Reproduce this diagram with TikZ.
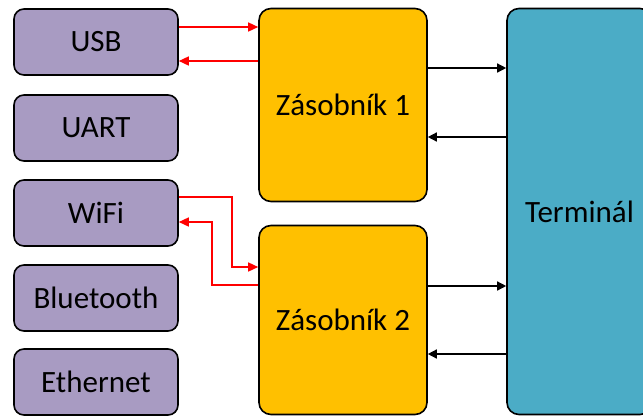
\documentclass[tikz,border=0pt]{standalone}
\usepackage{fontspec}
\setmainfont{Carlito}
\usetikzlibrary{arrows.meta,calc}
\definecolor{lpurple}{HTML}{A89BC2}
\definecolor{ygold}{HTML}{FFC000}
\definecolor{tteal}{HTML}{4BACC6}
\definecolor{rline}{HTML}{FF0000}
\tikzset{
  ifbox/.style={draw=black, line width=1.6pt, fill=lpurple, rounded corners=10pt,
    minimum width=164pt, minimum height=66pt, inner sep=0pt, font=\fontsize{31}{34}\selectfont},
  stackbox/.style={draw=black, line width=1.6pt, fill=ygold, rounded corners=12pt,
    minimum width=168pt, inner sep=0pt, font=\fontsize{31}{34}\selectfont},
  termbox/.style={draw=black, line width=1.6pt, fill=tteal, rounded corners=12pt,
    inner sep=0pt, font=\fontsize{31}{34}\selectfont},
  redarr/.style={draw=rline, line width=1.5pt, -{Triangle[length=10pt,width=9pt]}},
  blkarr/.style={draw=black, line width=1.4pt, -{Triangle[length=9pt,width=9pt]}},
}
\begin{document}
\begin{tikzpicture}[x=1pt,y=-1pt]
\useasboundingbox (0,0) rectangle (643,416);
\clip (0,0) rectangle (643,416);
\node[ifbox] (usb) at (96,42) {USB};
\node[ifbox] (uart) at (96,128) {UART};
\node[ifbox] (wifi) at (96,213) {WiFi};
\node[ifbox] (bt) at (96,298) {Bluetooth};
\node[ifbox] (eth) at (96,382) {Ethernet};
\node[stackbox, minimum height=193pt] (z1) at (343,105) {Zásobník 1};
\node[stackbox, minimum height=189pt] (z2) at (343,320) {Zásobník 2};
\node[termbox, minimum width=145pt, minimum height=406pt] (term) at (579.5,211.5) {Terminál};
% USB <-> Z1
\draw[redarr] ([yshift=15pt]usb.east) coordinate (a1) -- (a1 -| z1.west);
\coordinate (a2) at ([yshift=-19pt]usb.east);
\draw[redarr] (a2 -| z1.west) -- (a2);
% WiFi <-> Z2
\coordinate (w1) at ([yshift=16pt]wifi.east);
\coordinate (w2) at ([yshift=53pt]z2.west);
\draw[redarr] (w1) -- ($(w1)+(53,0)$) |- (w2);
\coordinate (w3) at ([yshift=35pt]z2.west);
\coordinate (w4) at ([yshift=-9pt]wifi.east);
\draw[redarr] (w3) -- ($(w3 -| w4)+(33,0)$) |- (w4);
% Z1 <-> Terminal
\draw[blkarr] ([yshift=37pt]z1.east) coordinate (b1) -- (b1 -| term.west);
\coordinate (b2) at ([yshift=-32pt]z1.east);
\draw[blkarr] (b2 -| term.west) -- (b2);
% Z2 <-> Terminal
\draw[blkarr] ([yshift=34pt]z2.east) coordinate (b3) -- (b3 -| term.west);
\coordinate (b4) at ([yshift=-34pt]z2.east);
\draw[blkarr] (b4 -| term.west) -- (b4);
\end{tikzpicture}
\end{document}
